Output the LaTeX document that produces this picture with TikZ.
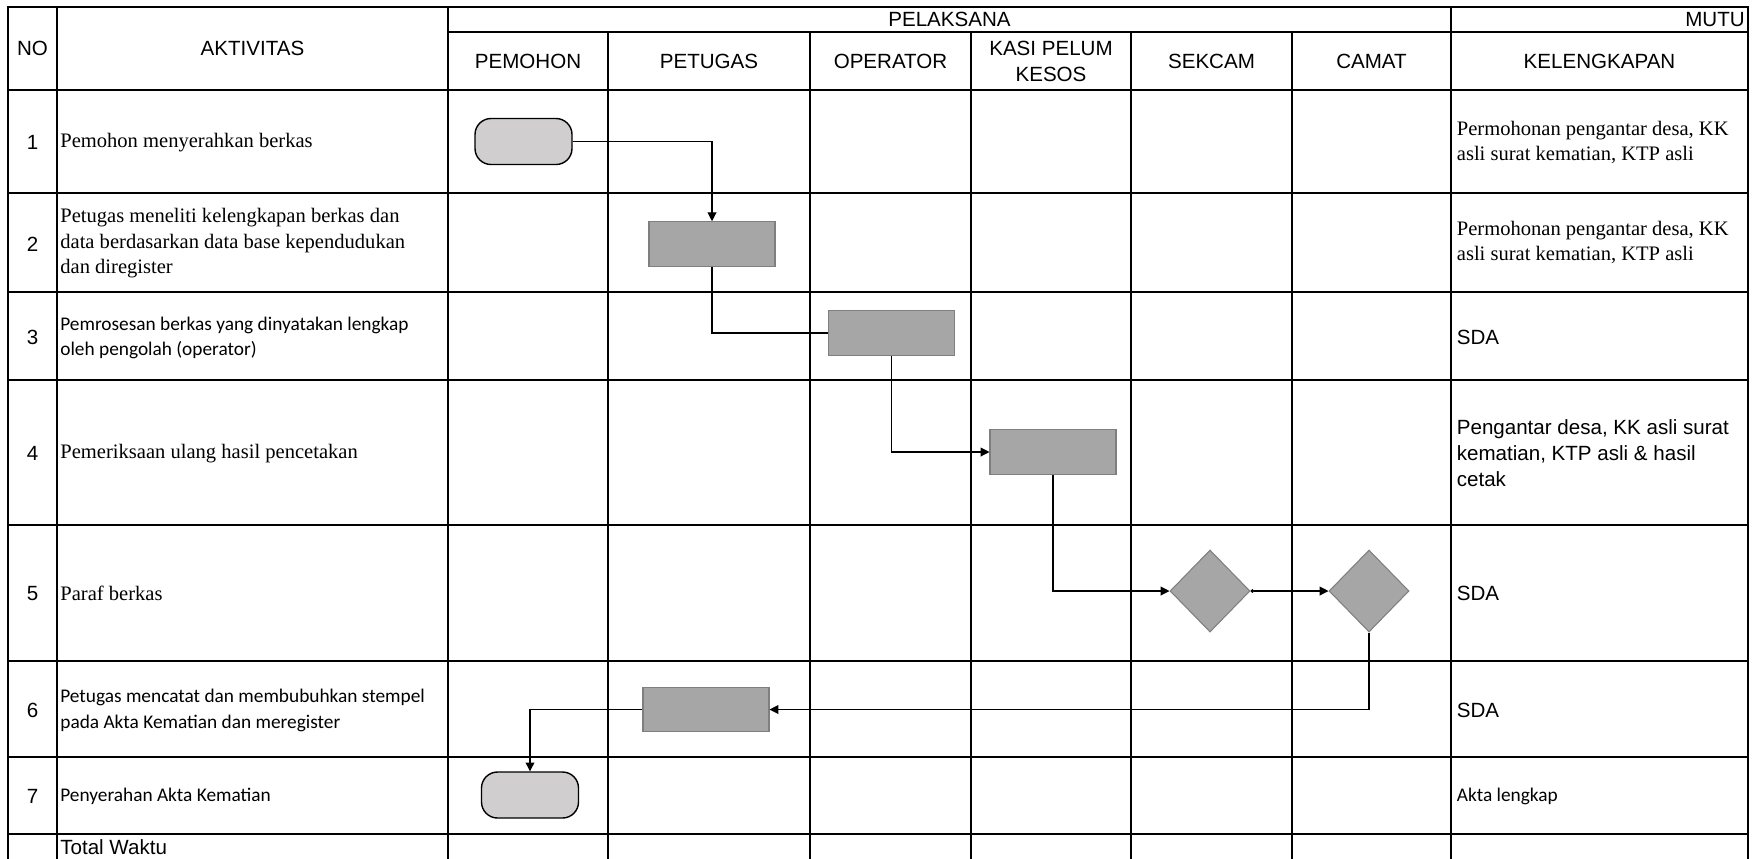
\documentclass[tikz,border=0pt]{standalone}
\usepackage{fontspec}
\setmainfont{Liberation Serif}
\newfontfamily\arialfont{Liberation Sans}
\newfontfamily\calibrifont{Carlito}
\usepackage{tikz}
\usetikzlibrary{shapes.geometric}
\usetikzlibrary{arrows.meta}
\definecolor{boxgray}{HTML}{A6A6A6}
\definecolor{edgegray}{HTML}{7F7F7F}
\definecolor{termgray}{HTML}{D0CECE}
\newcommand*\hdsize{\arialfont\fontsize{11.7}{14.8}\selectfont}
\newcommand*\tmsize{\fontsize{11.7}{14.5}\selectfont}
\newcommand*\cbsize{\calibrifont\fontsize{11}{14.5}\selectfont}
\tikzset{
  tableline/.style={line width=1pt,line cap=rect},
  hd/.style={font=\hdsize,inner sep=0pt},
  tm/.style={font=\tmsize,inner sep=0pt,anchor=west,align=left},
  cb/.style={font=\cbsize,inner sep=0pt,anchor=west,align=left},
  ar/.style={font=\hdsize,inner sep=0pt,anchor=west,align=left},
  terminal/.style={draw=black,line width=0.8pt,fill=termgray,rounded corners=0.32cm,
    minimum width=1.94cm,minimum height=0.92cm,inner sep=0pt},
  process/.style={draw=edgegray,line width=0.6pt,fill=boxgray,
    minimum width=2.52cm,minimum height=0.89cm,inner sep=0pt},
  decision/.style={diamond,draw=edgegray,line width=0.6pt,fill=boxgray,
    minimum width=1.6cm,minimum height=1.64cm,inner sep=0pt},
  flow/.style={line width=0.6pt,-{Triangle[length=5pt,width=5pt]}},
  link/.style={line width=0.6pt}
}

\begin{document}
\begin{tikzpicture}
\useasboundingbox (0,0) rectangle (35.2,-17.16);
% rows
\draw [tableline] (0.16,-0.14) -- (34.96,-0.14);
\draw [tableline] (8.96,-0.64) -- (34.96,-0.64);
\draw [tableline] (0.16,-1.80) -- (34.96,-1.80);
\draw [tableline] (0.16,-3.86) -- (34.96,-3.86);
\draw [tableline] (0.16,-5.84) -- (34.96,-5.84);
\draw [tableline] (0.16,-7.60) -- (34.96,-7.60);
\draw [tableline] (0.16,-10.50) -- (34.96,-10.50);
\draw [tableline] (0.16,-13.22) -- (34.96,-13.22);
\draw [tableline] (0.16,-15.14) -- (34.96,-15.14);
\draw [tableline] (0.16,-16.68) -- (34.96,-16.68);
% columns
\draw [tableline] (0.16,-0.14) -- (0.16,-17.3);
\draw [tableline] (1.14,-0.14) -- (1.14,-17.3);
\draw [tableline] (8.96,-0.14) -- (8.96,-17.3);
\draw [tableline] (12.16,-0.64) -- (12.16,-17.3);
\draw [tableline] (16.20,-0.64) -- (16.20,-17.3);
\draw [tableline] (19.42,-0.64) -- (19.42,-17.3);
\draw [tableline] (22.62,-0.64) -- (22.62,-17.3);
\draw [tableline] (25.84,-0.64) -- (25.84,-17.3);
\draw [tableline] (29.02,-0.14) -- (29.02,-17.3);
\draw [tableline] (34.96,-0.14) -- (34.96,-17.3);
% header
\node [hd] (no) at (0.65,-0.96) {NO};
\node [hd] (aktivitas) at (5.05,-0.96) {AKTIVITAS};
\node [hd] (pelaksana) at (18.99,-0.39) {PELAKSANA};
\node [hd,anchor=east] (mutu) at (34.90,-0.39) {MUTU};
\node [hd] (pemohon) at (10.56,-1.22) {PEMOHON};
\node [hd] (petugas) at (14.18,-1.22) {PETUGAS};
\node [hd] (operator) at (17.81,-1.22) {OPERATOR};
\node [hd,align=center] (kasi) at (21.02,-1.22) {KASI PELUM\\KESOS};
\node [hd] (sekcam) at (24.23,-1.22) {SEKCAM};
\node [hd] (camat) at (27.43,-1.22) {CAMAT};
\node [hd] (kelengkapan) at (31.99,-1.22) {KELENGKAPAN};
% numbers
\node [hd] (n1) at (0.65,-2.85) {1};
\node [hd] (n2) at (0.65,-4.88) {2};
\node [hd] (n3) at (0.65,-6.74) {3};
\node [hd] (n4) at (0.65,-9.07) {4};
\node [hd] (n5) at (0.65,-11.87) {5};
\node [hd] (n6) at (0.65,-14.20) {6};
\node [hd] (n7) at (0.65,-15.92) {7};
% aktivitas
\node [tm] (a1) at (1.20,-2.85) {Pemohon menyerahkan berkas};
\node [tm] (a2) at (1.20,-4.87) {Petugas meneliti kelengkapan berkas dan\\data berdasarkan data base kependudukan\\dan diregister};
\node [cb] (a3) at (1.20,-6.76) {Pemrosesan berkas yang dinyatakan lengkap\\oleh pengolah (operator)};
\node [tm] (a4) at (1.20,-9.07) {Pemeriksaan ulang hasil pencetakan};
\node [tm] (a5) at (1.20,-11.87) {Paraf berkas};
\node [cb] (a6) at (1.20,-14.21) {Petugas mencatat dan membubuhkan stempel\\pada Akta Kematian dan meregister};
\node [cb] (a7) at (1.20,-15.93) {Penyerahan Akta Kematian};
\node [ar] (total) at (1.20,-16.94) {Total Waktu};
% kelengkapan
\node [tm] (k1) at (29.13,-2.85) {Permohonan pengantar desa, KK\\asli surat kematian, KTP asli};
\node [tm] (k2) at (29.13,-4.85) {Permohonan pengantar desa, KK\\asli surat kematian, KTP asli};
\node [ar] (k3) at (29.13,-6.74) {SDA};
\node [ar] (k4) at (29.13,-9.07) {Pengantar desa, KK asli surat\\kematian, KTP asli \& hasil\\cetak};
\node [ar] (k5) at (29.13,-11.87) {SDA};
\node [ar] (k6) at (29.13,-14.20) {SDA};
\node [cb] (k7) at (29.13,-15.93) {Akta lengkap};
% flow shapes
\node [terminal] (t1) at (10.47,-2.83) {};
\node [process] (b2) at (14.24,-4.88) {};
\node [process] (b3) at (17.83,-6.66) {};
\node [process] (b4) at (21.06,-9.04) {};
\node [decision] (d1) at (24.20,-11.82) {};
\node [decision] (d2) at (27.38,-11.82) {};
\node [process] (b6) at (14.12,-14.19) {};
\node [terminal] (t7) at (10.60,-15.90) {};
% connectors
\draw [flow] (t1.east) -| (b2.north);
\draw [link] (b2.south) |- (b3.west);
\draw [flow] (b3.south) |- (b4.west);
\draw [flow] (b4.south) |- (d1.west);
\draw [flow,{Circle[length=2pt]}-{Triangle[length=5pt,width=5pt]}] (d1.east) -- (d2.west);
\draw [flow] (d2.south) |- (b6.east);
\draw [flow] (b6.west) -| (t7.north);
\end{tikzpicture}
\end{document}
